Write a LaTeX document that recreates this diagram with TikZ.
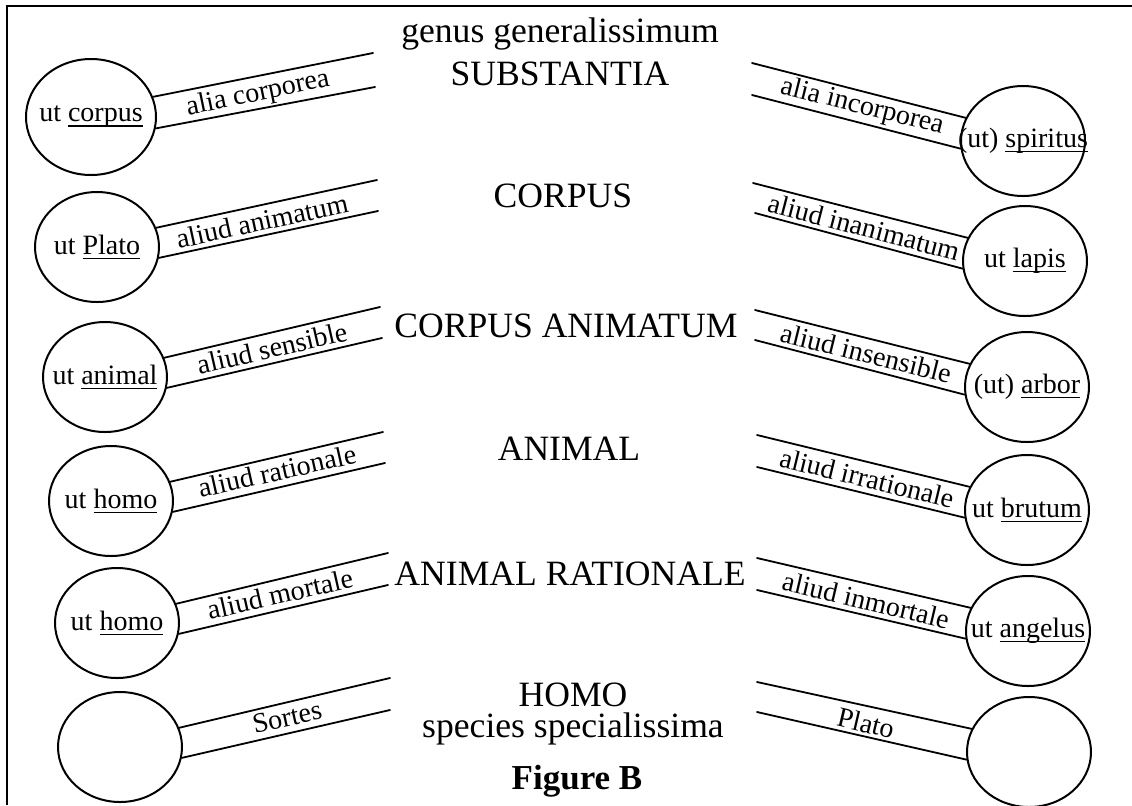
\documentclass[tikz,border=0pt]{standalone}
\usepackage{fontspec}
\setmainfont{Liberation Serif}
\usetikzlibrary{shapes.geometric}
\newcommand\ulw[1]{\setbox0=\hbox{#1}\rlap{\rule[-2.3pt]{\wd0}{0.7pt}}\box0}
\newcommand\rtxt[1]{\makebox[0pt]{#1}}

\begin{document}
\begin{tikzpicture}[
  x=0.5pt, y=-0.5pt,
  gen/.style={inner sep=0pt, font=\fontsize{17.8}{20}\selectfont},
  ring/.style={ellipse, draw, line width=1pt, minimum width=62pt, minimum height=55pt,
               inner sep=0pt, font=\fontsize{14}{16}\selectfont},
  lab/.style={inner sep=0pt, font=\fontsize{14}{16}\selectfont},
  br/.style={line width=0.9pt, line cap=round}
]
\useasboundingbox (0,0) rectangle (1132,805);
\draw[line width=1.1pt] (7,805) -- (7,6) -- (1132,6);

% centre column
\node[gen] (g0) at (560,34) {genus generalissimum};
\node[gen] (g1) at (560,74) {SUBSTANTIA};
\node[gen] (g2) at (563,196) {CORPUS};
\node[gen] (g3) at (566,326) {CORPUS ANIMATUM};
\node[gen] (g4) at (569,449) {ANIMAL};
\node[gen] (g5) at (570,574) {ANIMAL RATIONALE};
\node[gen, align=center, font=\fontsize{17.8}{15.5}\selectfont] (g6) at (573,714)
  {HOMO\\species specialissima};
\node[gen, font=\fontsize{17.5}{20}\selectfont\bfseries] (fig) at (577,781) {Figure B};

% left column
\node[ring, minimum width=65pt, minimum height=58pt] (L1) at (91,117) {\rtxt{ut \ulw{corpus}}};
\node[ring] (L2) at (97,247) {\rtxt{ut \ulw{Plato}}};
\node[ring] (L3) at (105,377) {\rtxt{ut \ulw{animal}}};
\node[ring] (L4) at (111,501) {\rtxt{ut \ulw{homo}}};
\node[ring] (L5) at (117,623) {\rtxt{ut \ulw{homo}}};
\node[ring] (L6) at (120,747) {};

% right column
\node[ring] (R1) at (1023,141) {\rtxt{(ut) \ulw{spiritus}}};
\node[ring] (R2) at (1025,261) {\rtxt{ut \ulw{lapis}}};
\node[ring] (R3) at (1027,387) {\rtxt{(ut) \ulw{arbor}}};
\node[ring] (R4) at (1027,510) {\rtxt{ut \ulw{brutum}}};
\node[ring] (R5) at (1028,631) {\rtxt{ut \ulw{angelus}}};
\node[ring] (R6) at (1029,752) {};

% free ends of the branches
\coordinate (lu1) at (373,53);  \coordinate (ld1) at (375,87);
\coordinate (lu2) at (377,180); \coordinate (ld2) at (378,211);
\coordinate (lu3) at (380,307); \coordinate (ld3) at (382,338);
\coordinate (lu4) at (383,432); \coordinate (ld4) at (385,463);
\coordinate (lu5) at (388,553); \coordinate (ld5) at (388,585);
\coordinate (lu6) at (390,678); \coordinate (ld6) at (390,710);
\coordinate (ru1) at (752,63);  \coordinate (rd1) at (752,95);
\coordinate (ru2) at (753,183); \coordinate (rd2) at (755,213);
\coordinate (ru3) at (755,310); \coordinate (rd3) at (755,340);
\coordinate (ru4) at (757,435); \coordinate (rd4) at (757,467);
\coordinate (ru5) at (757,558); \coordinate (rd5) at (757,590);
\coordinate (ru6) at (757,682); \coordinate (rd6) at (757,712);

\foreach \i in {1,...,6}{
  \draw[br] (L\i.18) -- (lu\i);
  \draw[br] (L\i.-10) -- (ld\i);
  \draw[br] (R\i.158) -- (ru\i);
  \draw[br] (R\i.187) -- (rd\i);
}

% branch labels
\node[lab, rotate=11.6] (b1) at (258,94) {alia corporea};
\node[lab, rotate=12.2] (b2) at (262,221) {aliud animatum};
\node[lab, rotate=12.9] (b3) at (272,348) {aliud sensible};
\node[lab, rotate=12.6] (b4) at (277,471) {aliud rationale};
\node[lab, rotate=12.8] (b5) at (280,594) {aliud mortale};
\node[lab, rotate=12.4] (b6) at (287,717) {Sortes};
\node[lab, rotate=-14.1] (c1) at (862,107) {alia incorporea};
\node[lab, rotate=-14.6] (c2) at (864,227) {aliud inanimatum};
\node[lab, rotate=-13.9] (c3) at (866,353) {aliud insensible};
\node[lab, rotate=-13.7] (c4) at (867,478) {aliud irrationale};
\node[lab, rotate=-13.3] (c5) at (866,600) {aliud inmortale};
\node[lab, rotate=-13.3] (c6) at (866,723) {Plato};
\end{tikzpicture}
\end{document}
